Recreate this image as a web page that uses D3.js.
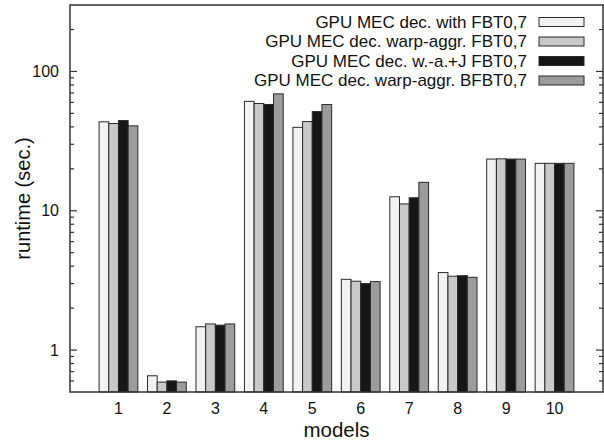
<!DOCTYPE html>
<html><head><meta charset="utf-8">
<script src="https://cdn.jsdelivr.net/npm/d3@7"></script>
<style>body{margin:0;background:#fff}svg{display:block}text{font-family:"Liberation Sans",Arial,sans-serif;fill:#111}</style>
</head><body><svg id="c" width="604" height="443"></svg>
<script>
const categories = [1,2,3,4,5,6,7,8,9,10];
const seriesNames = ["GPU MEC dec. with FBT0,7","GPU MEC dec. warp-aggr. FBT0,7","GPU MEC dec. w.-a.+J FBT0,7","GPU MEC dec. warp-aggr. BFBT0,7"];
const withFBT   = [43.5, 0.654, 1.47, 61.0, 39.7, 3.22, 12.6, 3.60, 23.5, 21.9];
const warpFBT   = [42.3, 0.589, 1.54, 58.9, 43.7, 3.12, 11.2, 3.39, 23.6, 21.9];
const waJFBT    = [44.4, 0.601, 1.51, 57.9, 51.5, 3.00, 12.4, 3.42, 23.5, 21.9];
const warpBFBT  = [40.7, 0.589, 1.54, 69.1, 57.9, 3.10, 16.0, 3.33, 23.5, 21.9];
const series = [withFBT, warpFBT, waJFBT, warpBFBT];
const colors = ["#f1f2f1","#c9c9c9","#161616","#9c9c9c"];
const yTickLabels = [1,10,100];

const svg = d3.select("#c");
const L=70, R=603, T=5, B=392;
const x = d3.scaleLinear().domain([0,11]).range([L,R]);
const y = d3.scaleLog().domain([0.5,300]).range([B,T]);
const step = x(1)-x(0);
const inner = d3.scaleBand().domain(d3.range(series.length)).range([-0.4*step,0.4*step]).padding(0);

// bars
series.forEach((s,si)=>{
  svg.append("g").selectAll("rect").data(s).join("rect")
    .attr("x",(d,i)=>x(categories[i])+inner(si))
    .attr("width",inner.bandwidth())
    .attr("y",d=>y(d))
    .attr("height",d=>B-y(d))
    .attr("fill",colors[si]).attr("stroke","#2a2a2a").attr("stroke-width",1);
});

// ticks (inward, both sides)
const ticks = y.ticks();
const isMajor = v => Math.abs(Math.log10(v)-Math.round(Math.log10(v)))<1e-9;
const tg = svg.append("g").attr("stroke","#333").attr("stroke-width",1.2);
ticks.forEach(v=>{
  if (v<=0.5 || v>=300) return;
  const len = isMajor(v)?7:4;
  tg.append("line").attr("x1",L).attr("x2",L+len).attr("y1",y(v)).attr("y2",y(v));
  tg.append("line").attr("x1",R).attr("x2",R-len).attr("y1",y(v)).attr("y2",y(v));
});
svg.append("g").selectAll("text").data(yTickLabels).join("text")
  .attr("x",L-11).attr("y",d=>y(d)).attr("dy","0.35em").attr("text-anchor","end")
  .attr("font-size",16).text(d=>d);

// x labels
svg.append("g").selectAll("text").data(categories).join("text")
  .attr("x",d=>x(d)).attr("y",414).attr("text-anchor","middle")
  .attr("font-size",16).text(d=>d);

// frame
svg.append("rect").attr("x",L).attr("y",T).attr("width",R-L).attr("height",B-T)
  .attr("fill","none").attr("stroke","#333").attr("stroke-width",1.5);

// titles
svg.append("text").attr("x",(L+R)/2).attr("y",437).attr("text-anchor","middle").attr("font-size",20.5).text("models");
svg.append("text").attr("transform",`translate(30,${(T+B)/2}) rotate(-90)`).attr("text-anchor","middle").attr("font-size",20).text("runtime (sec.)");

// legend
const lg = svg.append("g");
seriesNames.forEach((n,i)=>{
  const cy = 22 + i*19.5;
  lg.append("text").attr("x",527).attr("y",cy).attr("dy","0.35em").attr("text-anchor","end").attr("font-size",17).text(n);
  lg.append("rect").attr("x",539).attr("y",cy-4.5).attr("width",45).attr("height",9)
    .attr("fill",colors[i]).attr("stroke","#2a2a2a").attr("stroke-width",1);
});
</script></body></html>
